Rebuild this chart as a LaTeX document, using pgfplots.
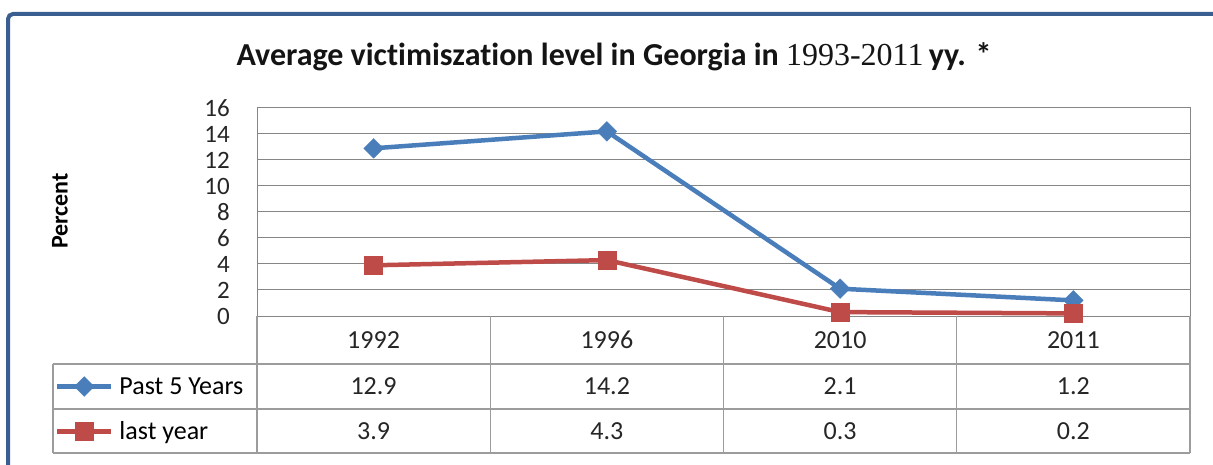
\documentclass[border=0pt]{standalone}
\usepackage{pgfplots}
\pgfplotsset{compat=1.18}
\usepackage{fontspec}
\setmainfont[Ligatures=NoCommon]{Carlito}
\newfontfamily\serifnum{Liberation Serif}
\definecolor{blueS}{HTML}{4A7EBB}
\definecolor{redS}{HTML}{BE4B48}
\definecolor{gridc}{HTML}{868686}
\definecolor{tablec}{HTML}{9C9C9C}
\definecolor{framec}{HTML}{3A5E90}
\begin{document}
\begin{tikzpicture}
\useasboundingbox (0,0) rectangle (1213bp,465bp);
\fill[white] (0,0) rectangle (1213bp,465bp);
\draw[framec, line width=4bp, rounded corners=5bp] (8bp,-5bp) -- (8bp,451bp) -- (1220bp,451bp);
% title
\node[anchor=center, font=\fontsize{32bp}{36bp}\selectfont\bfseries, text=black!92] at (614bp,408bp)
  {Average victimiszation level in Georgia in {\serifnum\mdseries 1993-2011}\,yy. *};
\node[rotate=90, font=\fontsize{24bp}{28bp}\selectfont\bfseries] at (60bp,254bp) {Percent};
\begin{axis}[
  at={(257bp,149bp)}, anchor=south west,
  width=933bp, height=208bp, scale only axis,
  xmin=-0.5, xmax=3.5, ymin=0, ymax=16,
  ytick={0,2,...,16}, xtick=\empty,
  ymajorgrids, grid style={gridc, line width=1bp},
  axis line style={gridc, line width=1bp},
  major tick length=0pt,
  /pgf/number format/assume math mode=true,
  yticklabel style={font=\fontsize{25bp}{26bp}\selectfont, text=black!85, inner sep=0pt, xshift=-27bp},
  clip=false,
  legend cell align=left,
  legend style={at={(-0.2165,-0.2308)}, anchor=north west, draw=none, fill=none,
    inner sep=0pt, outer sep=0pt, row sep=0pt, column sep=6bp,
    font=\fontsize{26bp}{30bp}\selectfont,
    nodes={minimum height=45bp, inner sep=0pt}},
  legend image code/.code={\draw[mark repeat=2,mark phase=2,#1] plot coordinates {(0bp,0bp) (27bp,0bp) (54bp,0bp)};},
]
\addplot[blueS, line width=4.5bp, mark=square*, mark size=7bp, mark options={solid, rotate=45, line width=0.3bp}]
  coordinates {(0,12.9) (1,14.2) (2,2.1) (3,1.2)};
\addplot[redS, line width=4.5bp, mark=square*, mark size=9bp, mark options={solid, line width=0.3bp}]
  coordinates {(0,3.9) (1,4.3) (2,0.3) (3,0.2)};
\legend{Past 5 Years, last year}
\end{axis}
% data table
\begin{scope}[tablec, line width=1.2bp]
\draw (53bp,101bp) -- (1190bp,101bp);
\draw (53bp,56bp) -- (1190bp,56bp);
\draw (53bp,12bp) -- (1190bp,12bp);
\draw (53bp,101bp) -- (53bp,12bp);
\foreach \x in {257,490.25,723.5,956.75,1190} \draw (\x bp,149bp) -- (\x bp,12bp);
\end{scope}
\begin{scope}[font=\fontsize{26bp}{30bp}\selectfont, text=black!85]
\foreach \x/\a/\b/\c in {373.6/1992/12.9/3.9, 606.9/1996/14.2/4.3, 840.1/2010/2.1/0.3, 1073.4/2011/1.2/0.2}{
  \node at (\x bp,125bp) {\a};
  \node at (\x bp,78.5bp) {\b};
  \node at (\x bp,34bp) {\c};
}
\end{scope}
\end{tikzpicture}
\end{document}
